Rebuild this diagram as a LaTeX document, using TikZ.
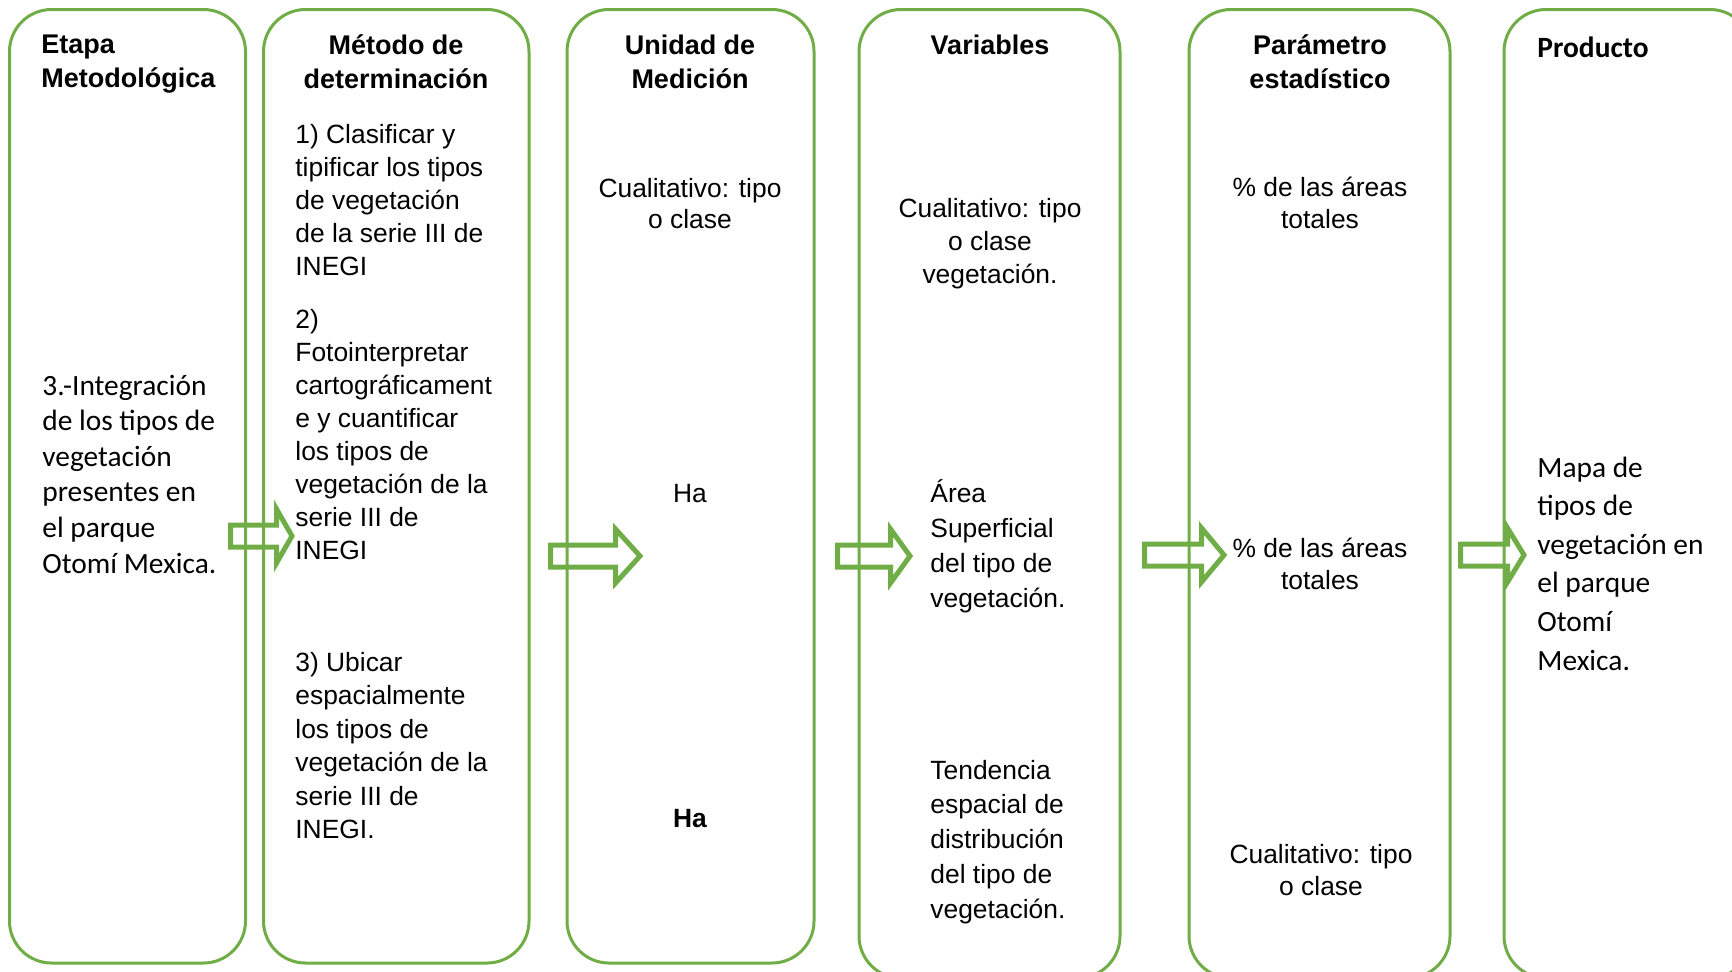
\documentclass[tikz,border=0pt]{standalone}
\usepackage{fontspec}
\setmainfont{Liberation Sans}
\newfontfamily\calibri{Carlito}
\definecolor{verde}{HTML}{70AD47}
% texto en varias lineas, con la linea base en la primera
\newcommand{\lineas}[2][l]{\begin{tabular}[t]{@{}#1@{}}#2\end{tabular}}
% flecha de bloque: x inicio, x cabeza, x punta, y centro
\newcommand{\flecha}[4]{\draw[flechaverde] (#1,#4-11) -- (#2,#4-11) -- (#2,#4-27) -- (#3,#4) -- (#2,#4+27) -- (#2,#4+11) -- (#1,#4+11) -- cycle;}

\begin{document}
\begin{tikzpicture}[x=0.5pt, y=-0.5pt]
        \tikzstyle{every node}=[inner sep=0pt]
        \tikzstyle{caja}=[draw=verde, line width=1.5pt, rounded corners=21pt]
        \tikzstyle{flechaverde}=[draw=verde, line width=2.5pt, line join=miter]
        \tikzstyle{titulo}=[anchor=base, font=\fontsize{13.5}{17}\selectfont\bfseries]
        \tikzstyle{texto}=[anchor=base west, font=\fontsize{13.2}{16.5}\selectfont]
        \tikzstyle{centro}=[anchor=base, font=\fontsize{13.2}{16.5}\selectfont]
        \tikzstyle{textocal}=[anchor=base west, font=\calibri\fontsize{14.7}{17.8}\selectfont]
        \useasboundingbox (0,0) rectangle (1732,971);
        \clip (0,0) rectangle (1732,971);

        % columnas
        \node [caja, minimum width=118pt, minimum height=476.75pt] (c1) at (127.5,486.25) {};
        \node [caja, minimum width=132.75pt, minimum height=476.75pt] (c2) at (396.25,486.25) {};
        \node [caja, minimum width=123.5pt, minimum height=476.75pt] (c3) at (690.5,486.25) {};
        \node [caja, minimum width=130.5pt, minimum height=484.25pt] (c4) at (989.5,493.75) {};
        \node [caja, minimum width=130.5pt, minimum height=484.25pt] (c5) at (1319.5,493.75) {};
        \node [caja, minimum width=124pt, minimum height=484.25pt] (c6) at (1628,493.75) {};

        % titulos
        \node [titulo, anchor=base west] (etapa) at (41,53) {\lineas{Etapa\\Metodológica}};
        \node [titulo] (metodo) at (396,54) {\lineas[c]{Método de\\determinación}};
        \node [titulo] (unidad) at (690,54) {\lineas[c]{Unidad de\\Medición}};
        \node [titulo] (variables) at (990,54) {Variables};
        \node [titulo] (parametro) at (1320,54) {\lineas[c]{Parámetro\\estadístico}};
        \node [titulo, anchor=base west, font=\calibri\fontsize{14.7}{17.8}\selectfont\bfseries] (producto) at (1537,57) {Producto};

        % etapa
        \node [textocal] (integracion) at (42,395) {\lineas{3.-Integración\\de los tipos de\\vegetación\\presentes en\\el parque\\Otomí Mexica.}};

        % metodo
        \node [texto] (clasificar) at (295,143) {\lineas{1) Clasificar y\\tipificar los tipos\\de vegetación\\de la serie III de\\INEGI}};
        \node [texto] (fotointerpretar) at (295,328) {\lineas{2)\\Fotointerpretar\\cartográficament\\e y cuantificar\\los tipos de\\vegetación de la\\serie III de\\INEGI}};
        \node [texto, font=\fontsize{13.2}{16.75}\selectfont] (ubicar) at (295,671) {\lineas{3) Ubicar\\espacialmente\\los tipos de\\vegetación de la\\serie III de\\INEGI.}};

        % unidad
        \node [centro, font=\fontsize{13.2}{15.75}\selectfont] (u1) at (690,197) {\lineas[c]{Cualitativo: tipo\\o clase}};
        \node [centro] (u2) at (690,502) {Ha};
        \node [centro, font=\fontsize{13.2}{16.5}\selectfont\bfseries] (u3) at (690,827) {Ha};

        % variables
        \node [centro] (v1) at (990,217) {\lineas[c]{Cualitativo: tipo\\o clase\\vegetación.}};
        \node [texto, font=\fontsize{13.2}{17.5}\selectfont] (v2) at (930,502) {\lineas{Área\\Superficial\\del tipo de\\vegetación.}};
        \node [texto, font=\fontsize{13.2}{17.4}\selectfont] (v3) at (930,779) {\lineas{Tendencia\\espacial de\\distribución\\del tipo de\\vegetación.}};

        % parametro
        \node [centro, font=\fontsize{13.2}{16.25}\selectfont] (p1) at (1320,196) {\lineas[c]{\% de las áreas\\totales}};
        \node [centro, font=\fontsize{13.2}{16.25}\selectfont] (p2) at (1320,557) {\lineas[c]{\% de las áreas\\totales}};
        \node [centro, font=\fontsize{13.2}{16}\selectfont] (p3) at (1321,863) {\lineas[c]{Cualitativo: tipo\\o clase}};

        % producto
        \node [textocal, font=\calibri\fontsize{14.7}{19.3}\selectfont] (mapa) at (1537,477) {\lineas{Mapa de\\tipos de\\vegetación en\\el parque\\Otomí\\Mexica.}};

        % flechas
        \flecha{230.5}{276.5}{292}{536}
        \flecha{550.5}{615.5}{640}{556}
        \flecha{837.5}{890.5}{910}{556}
        \flecha{1144.5}{1201.5}{1224}{555}
        \flecha{1460.5}{1507.5}{1524}{555}
    \end{tikzpicture}
\end{document}
